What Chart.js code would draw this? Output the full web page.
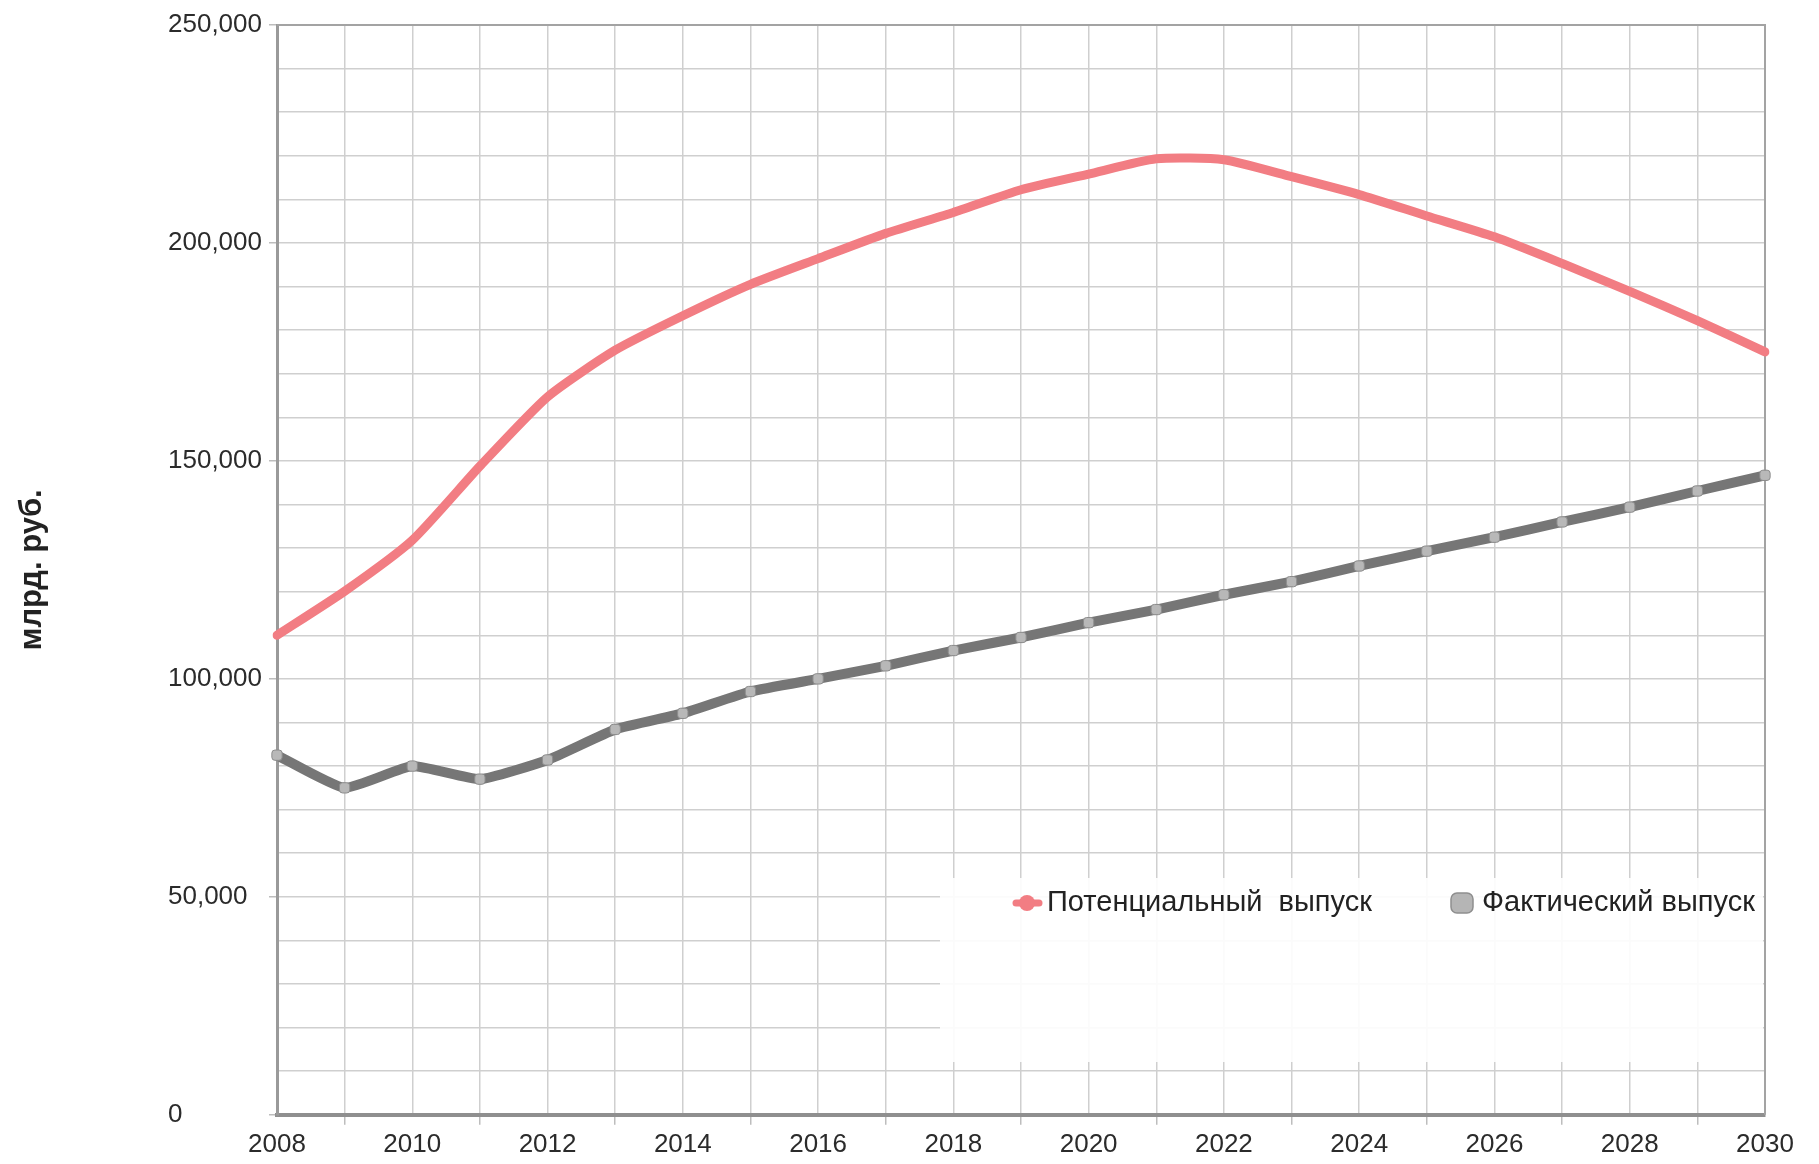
<!DOCTYPE html>
<html>
<head>
<meta charset="utf-8">
<script src="https://cdn.jsdelivr.net/npm/chart.js@4.4.1/dist/chart.umd.min.js"></script>
<style>
html,body{margin:0;padding:0;background:#fff;}
#wrap{width:1819px;height:1164px;}
</style>
</head>
<body>
<div id="wrap"><canvas id="c" width="1819" height="1164"></canvas></div>
<script>
const years = ['2008','2009','2010','2011','2012','2013','2014','2015','2016','2017','2018','2019','2020','2021','2022','2023','2024','2025','2026','2027','2028','2029','2030'];
const potentialOutput = [110000,120100,131800,148800,164700,175400,183300,190500,196400,202200,207000,212200,215800,219300,219100,215200,211100,206200,201400,195300,188900,182200,175000];
const actualOutput = [82500,75000,80000,77000,81400,88400,92100,97100,100000,103000,106500,109500,112900,115900,119300,122300,125900,129300,132500,136000,139400,143100,146700];
const seriesNames = ['Потенциальный  выпуск', 'Фактический выпуск'];
const yAxisTitle = 'млрд. руб.';

const FONT = '"Liberation Sans", Arial, sans-serif';

const plotDecor = {
  id: 'plotDecor',
  beforeDatasetsDraw(chart) {
    const {ctx, chartArea: a} = chart;
    ctx.save();
    ctx.strokeStyle = '#a3a3a3';
    ctx.lineWidth = 2;
    ctx.beginPath();
    ctx.moveTo(a.left, a.top);
    ctx.lineTo(a.right, a.top);
    ctx.lineTo(a.right, a.bottom);
    ctx.stroke();
    ctx.fillStyle = 'rgba(255,255,255,0.9)';
    ctx.fillRect(940, 878, a.right - 2 - 940, 1062 - 878);
    ctx.restore();
  },
  afterDraw(chart) {
    const ctx = chart.ctx;
    const ds = chart.data.datasets;
    const y = 903;
    ctx.save();
    ctx.font = '29px ' + FONT;
    ctx.textBaseline = 'middle';
    ctx.textAlign = 'left';
    ctx.strokeStyle = ds[0].borderColor;
    ctx.lineWidth = 7;
    ctx.lineCap = 'round';
    ctx.beginPath();
    ctx.moveTo(1016, y);
    ctx.lineTo(1039, y);
    ctx.stroke();
    ctx.fillStyle = ds[0].borderColor;
    ctx.beginPath();
    ctx.arc(1027, y, 8, 0, Math.PI * 2);
    ctx.fill();
    ctx.fillStyle = '#222';
    ctx.fillText(ds[0].label, 1047, y);
    ctx.fillStyle = '#b5b5b5';
    ctx.strokeStyle = '#8e8e8e';
    ctx.lineWidth = 1.5;
    ctx.beginPath();
    if (ctx.roundRect) { ctx.roundRect(1451, y - 10, 22, 20, 6); } else { ctx.rect(1451, y - 10, 22, 20); }
    ctx.fill();
    ctx.stroke();
    ctx.fillStyle = '#222';
    ctx.fillText(ds[1].label, 1482, y);
    ctx.restore();
  }
};

new Chart(document.getElementById('c'), {
  type: 'line',
  data: {
    labels: years,
    datasets: [
      {
        label: seriesNames[0],
        data: potentialOutput,
        borderColor: '#f27d83',
        backgroundColor: '#f27d83',
        borderWidth: 9,
        pointRadius: 0,
        tension: 0.2,
        borderJoinStyle: 'round',
        borderCapStyle: 'round'
      },
      {
        label: seriesNames[1],
        data: actualOutput,
        borderColor: '#767676',
        backgroundColor: '#b5b5b5',
        borderWidth: 10,
        pointStyle: 'rectRounded',
        pointRadius: 6,
        pointBackgroundColor: '#b8b8b8',
        pointBorderColor: '#8c8c8c',
        pointBorderWidth: 1,
        tension: 0.15,
        borderJoinStyle: 'round',
        borderCapStyle: 'round'
      }
    ]
  },
  options: {
    responsive: false,
    animation: false,
    devicePixelRatio: 1,
    layout: { padding: { top: 25, right: 54, bottom: 0, left: 0 } },
    plugins: {
      legend: { display: false },
      tooltip: { enabled: false }
    },
    scales: {
      x: {
        type: 'category',
        offset: false,
        grid: {
          color: '#cfcfcf',
          lineWidth: 1.5,
          tickLength: 10,
          tickColor: (c) => (c.index % 2 === 1 ? '#bdbdbd' : 'rgba(0,0,0,0)')
        },
        border: { color: '#8f8f8f', width: 4 },
        ticks: {
          autoSkip: false,
          maxRotation: 0,
          padding: 4,
          color: '#2b2b2b',
          font: { family: FONT, size: 26 },
          callback: function(v, i) { return i % 2 === 0 ? this.getLabelForValue(v) : ''; }
        }
      },
      y: {
        type: 'linear',
        position: 'left',
        weight: 0,
        min: 0,
        max: 250000,
        afterFit: (s) => { s.width = 109; },
        grid: {
          color: '#cfcfcf',
          lineWidth: 1.5,
          tickLength: 8,
          tickColor: (c) => (c.tick && c.tick.value % 50000 === 0 ? '#bdbdbd' : 'rgba(0,0,0,0)')
        },
        border: { color: '#9a9a9a', width: 3 },
        ticks: {
          stepSize: 10000,
          autoSkip: false,
          crossAlign: 'far',
          color: '#2b2b2b',
          font: { family: FONT, size: 26 },
          callback: (v) => (v % 50000 === 0 ? v.toLocaleString('en-US') : '')
        }
      },
      yTitle: {
        type: 'linear',
        position: 'left',
        weight: 10,
        afterFit: (s) => { s.width = 168; },
        grid: { display: false, drawTicks: false },
        border: { display: false },
        ticks: { display: false },
        title: {
          display: true,
          text: yAxisTitle,
          color: '#222',
          padding: { top: 14, bottom: 0 },
          font: { family: FONT, size: 31, weight: 'bold' }
        }
      }
    }
  },
  plugins: [plotDecor]
});
</script>
</body>
</html>
